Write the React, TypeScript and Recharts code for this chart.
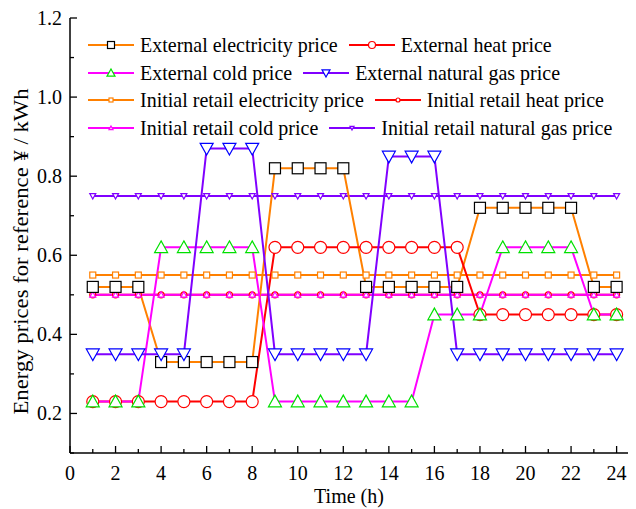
import React from 'react';
import { LineChart, Line, XAxis, YAxis, Legend } from 'recharts';

const hours = [1, 2, 3, 4, 5, 6, 7, 8, 9, 10, 11, 12, 13, 14, 15, 16, 17, 18, 19, 20, 21, 22, 23, 24];

const extElec = [0.52, 0.52, 0.52, 0.33, 0.33, 0.33, 0.33, 0.33, 0.82, 0.82, 0.82, 0.82, 0.52, 0.52, 0.52, 0.52, 0.52, 0.72, 0.72, 0.72, 0.72, 0.72, 0.52, 0.52];
const extHeat = [0.23, 0.23, 0.23, 0.23, 0.23, 0.23, 0.23, 0.23, 0.62, 0.62, 0.62, 0.62, 0.62, 0.62, 0.62, 0.62, 0.62, 0.45, 0.45, 0.45, 0.45, 0.45, 0.45, 0.45];
const extCold = [0.23, 0.23, 0.23, 0.62, 0.62, 0.62, 0.62, 0.62, 0.23, 0.23, 0.23, 0.23, 0.23, 0.23, 0.23, 0.45, 0.45, 0.45, 0.62, 0.62, 0.62, 0.62, 0.45, 0.45];
const extGas = [0.35, 0.35, 0.35, 0.35, 0.35, 0.87, 0.87, 0.87, 0.35, 0.35, 0.35, 0.35, 0.35, 0.85, 0.85, 0.85, 0.35, 0.35, 0.35, 0.35, 0.35, 0.35, 0.35, 0.35];
const retailElec = [0.55, 0.55, 0.55, 0.55, 0.55, 0.55, 0.55, 0.55, 0.55, 0.55, 0.55, 0.55, 0.55, 0.55, 0.55, 0.55, 0.55, 0.55, 0.55, 0.55, 0.55, 0.55, 0.55, 0.55];
const retailHeat = [0.5, 0.5, 0.5, 0.5, 0.5, 0.5, 0.5, 0.5, 0.5, 0.5, 0.5, 0.5, 0.5, 0.5, 0.5, 0.5, 0.5, 0.5, 0.5, 0.5, 0.5, 0.5, 0.5, 0.5];
const retailCold = [0.5, 0.5, 0.5, 0.5, 0.5, 0.5, 0.5, 0.5, 0.5, 0.5, 0.5, 0.5, 0.5, 0.5, 0.5, 0.5, 0.5, 0.5, 0.5, 0.5, 0.5, 0.5, 0.5, 0.5];
const retailGas = [0.75, 0.75, 0.75, 0.75, 0.75, 0.75, 0.75, 0.75, 0.75, 0.75, 0.75, 0.75, 0.75, 0.75, 0.75, 0.75, 0.75, 0.75, 0.75, 0.75, 0.75, 0.75, 0.75, 0.75];

const xTicks = [0, 1, 2, 3, 4, 5, 6, 7, 8, 9, 10, 11, 12, 13, 14, 15, 16, 17, 18, 19, 20, 21, 22, 23, 24];
const yTicks = [0.1, 0.2, 0.3, 0.4, 0.5, 0.6, 0.7, 0.8, 0.9, 1.0, 1.1, 1.2];

const data = hours.map((h, i) => ({
  h,
  extElec: extElec[i],
  extHeat: extHeat[i],
  extCold: extCold[i],
  extGas: extGas[i],
  retailElec: retailElec[i],
  retailHeat: retailHeat[i],
  retailCold: retailCold[i],
  retailGas: retailGas[i],
}));

type MarkerKind = 'square' | 'circle' | 'up' | 'down';

const series: Array<{ key: string; name: string; line: string; marker: MarkerKind; mStroke: string; size: number }> = [
  { key: 'retailElec', name: 'Initial retail electricity price', line: '#FF8000', marker: 'square', mStroke: '#FF8000', size: 6 },
  { key: 'retailHeat', name: 'Initial retail heat price', line: '#FF0000', marker: 'circle', mStroke: '#FF0000', size: 6 },
  { key: 'retailCold', name: 'Initial retail cold price', line: '#FF00FF', marker: 'up', mStroke: '#FF00FF', size: 6 },
  { key: 'retailGas', name: 'Initial retail natural gas price', line: '#8000FF', marker: 'down', mStroke: '#8000FF', size: 6 },
  { key: 'extElec', name: 'External electricity price', line: '#FF8000', marker: 'square', mStroke: '#000000', size: 11 },
  { key: 'extHeat', name: 'External heat price', line: '#FF0000', marker: 'circle', mStroke: '#FF0000', size: 12 },
  { key: 'extCold', name: 'External cold price', line: '#FF00FF', marker: 'up', mStroke: '#00E000', size: 13 },
  { key: 'extGas', name: 'External natural gas price', line: '#8000FF', marker: 'down', mStroke: '#0000FF', size: 13 },
];

const legendRows = [
  ['extElec', 'extHeat'],
  ['extCold', 'extGas'],
  ['retailElec', 'retailHeat'],
  ['retailCold', 'retailGas'],
];

const FONT = '"Liberation Serif", "Times New Roman", serif';

const Marker = ({ cx, cy, kind, stroke, size }: { cx: number; cy: number; kind: MarkerKind; stroke: string; size: number }) => {
  const s = size / 2;
  if (kind === 'square') {
    return <rect x={cx - s} y={cy - s} width={size} height={size} fill="#fff" stroke={stroke} strokeWidth={1.2} />;
  }
  if (kind === 'circle') {
    return <circle cx={cx} cy={cy} r={s} fill="#fff" stroke={stroke} strokeWidth={1.2} />;
  }
  if (kind === 'up') {
    return <polygon points={`${cx},${cy - s} ${cx + s},${cy + s * 0.8} ${cx - s},${cy + s * 0.8}`} fill="#fff" stroke={stroke} strokeWidth={1.2} />;
  }
  return <polygon points={`${cx},${cy + s} ${cx + s},${cy - s * 0.8} ${cx - s},${cy - s * 0.8}`} fill="#fff" stroke={stroke} strokeWidth={1.2} />;
};

const renderLegend = () => (
  <div style={{ fontFamily: FONT, fontSize: 20, color: '#000', lineHeight: '27.7px' }}>
    {legendRows.map((row, r) => (
      <div key={r} style={{ display: 'flex', alignItems: 'center', whiteSpace: 'nowrap', height: 27.7 }}>
        {row.map((k) => {
          const s = series.find((x) => x.key === k)!;
          return (
            <span key={k} style={{ display: 'inline-flex', alignItems: 'center', marginRight: 11 }}>
              <svg width={46} height={16} style={{ marginRight: 6 }}>
                <line x1={0} y1={8} x2={46} y2={8} stroke={s.line} strokeWidth={2} />
                <Marker cx={23} cy={8} kind={s.marker} stroke={s.mStroke} size={Math.round(s.size * 0.62)} />
              </svg>
              <span style={{ display: 'inline-block', transform: 'scaleY(1.1)' }}>{s.name}</span>
            </span>
          );
        })}
      </div>
    ))}
  </div>
);

const BottomTick = (props: any) => {
  const { x, y, payload } = props;
  const major = payload.value % 2 === 0;
  return (
    <g>
      <line x1={x} y1={y} x2={x} y2={y - (major ? 7 : 4)} stroke="#000" strokeWidth={1.3} />
      {major && (
        <text x={x} y={y + 27} textAnchor="middle" fontFamily={FONT} fontSize={20} fill="#000">
          {payload.value}
        </text>
      )}
    </g>
  );
};

const TopTick = (props: any) => {
  const { x, y, payload } = props;
  const major = payload.value % 2 === 0;
  return <line x1={x} y1={y} x2={x} y2={y + (major ? 7 : 4)} stroke="#000" strokeWidth={1.3} />;
};

const LeftTick = (props: any) => {
  const { x, y, payload } = props;
  const major = Math.round(payload.value * 10) % 2 === 0;
  return (
    <g>
      <line x1={x} y1={y} x2={x + (major ? 7 : 4)} y2={y} stroke="#000" strokeWidth={1.3} />
      {major && (
        <text x={x - 8} y={y + 7} textAnchor="end" fontFamily={FONT} fontSize={20} fill="#000">
          {payload.value.toFixed(1)}
        </text>
      )}
    </g>
  );
};

const RightTick = (props: any) => {
  const { x, y, payload } = props;
  const major = Math.round(payload.value * 10) % 2 === 0;
  return <line x1={x} y1={y} x2={x - (major ? 7 : 4)} y2={y} stroke="#000" strokeWidth={1.3} />;
};

const YLabel = (props: any) => {
  const { viewBox } = props;
  const cx = 21;
  const cy = viewBox.y + viewBox.height / 2 + 16;
  return (
    <text
      x={cx}
      y={cy}
      transform={`rotate(-90 ${cx} ${cy})`}
      textAnchor="middle"
      dominantBaseline="central"
      fontFamily={FONT}
      fontSize={20}
      fill="#000"
      textLength={326}
      lengthAdjust="spacingAndGlyphs"
    >
      Energy prices for reference ¥ / kWh
    </text>
  );
};

const XLabel = (props: any) => {
  const { viewBox } = props;
  return (
    <text x={viewBox.x + viewBox.width / 2} y={viewBox.y + 50} textAnchor="middle" fontFamily={FONT} fontSize={20} fill="#000">
      Time (h)
    </text>
  );
};

export default function App() {
  return (
    <div style={{ position: 'absolute', left: 0, top: 0, width: 636, height: 509, background: '#fff' }}>
      <LineChart width={636} height={509} data={data} margin={{ top: 18, right: 8, bottom: 0, left: 0 }}>
        <XAxis
          dataKey="h"
          type="number"
          domain={[0, 24.5]}
          ticks={xTicks}
          interval={0}
          height={56}
          tickSize={0}
          tickMargin={0}
          tick={<BottomTick />}
          axisLine={{ stroke: '#000', strokeWidth: 1.5 }}
          tickLine={false}
          label={<XLabel />}
        />
        <XAxis
          xAxisId="top"
          orientation="top"
          dataKey="h"
          type="number"
          domain={[0, 24.5]}
          ticks={xTicks}
          interval={0}
          height={0}
          tickSize={0}
          tickMargin={0}
          tick={<TopTick />}
          axisLine={{ stroke: '#000', strokeWidth: 1.5 }}
          tickLine={false}
        />
        <YAxis
          type="number"
          domain={[0.1, 1.2]}
          ticks={yTicks}
          interval={0}
          width={70}
          tickSize={0}
          tickMargin={0}
          tick={<LeftTick />}
          axisLine={{ stroke: '#000', strokeWidth: 1.5 }}
          tickLine={false}
          label={<YLabel />}
        />
        <YAxis
          yAxisId="right"
          orientation="right"
          type="number"
          domain={[0.1, 1.2]}
          ticks={yTicks}
          interval={0}
          width={0}
          tickSize={0}
          tickMargin={0}
          tick={<RightTick />}
          axisLine={{ stroke: '#000', strokeWidth: 1.5 }}
          tickLine={false}
        />
        <Legend
          layout="horizontal"
          verticalAlign="middle"
          align="center"
          content={renderLegend}
          wrapperStyle={{ position: 'absolute', left: 88, top: 31, width: 'auto' }}
        />
        {series.map((s) => (
          <Line
            key={s.key}
            dataKey={s.key}
            name={s.name}
            stroke={s.line}
            strokeWidth={2}
            isAnimationActive={false}
            activeDot={false}
            dot={(p: any) => <Marker key={`${s.key}-${p.index}`} cx={p.cx} cy={p.cy} kind={s.marker} stroke={s.mStroke} size={s.size} />}
          />
        ))}
      </LineChart>
    </div>
  );
}
